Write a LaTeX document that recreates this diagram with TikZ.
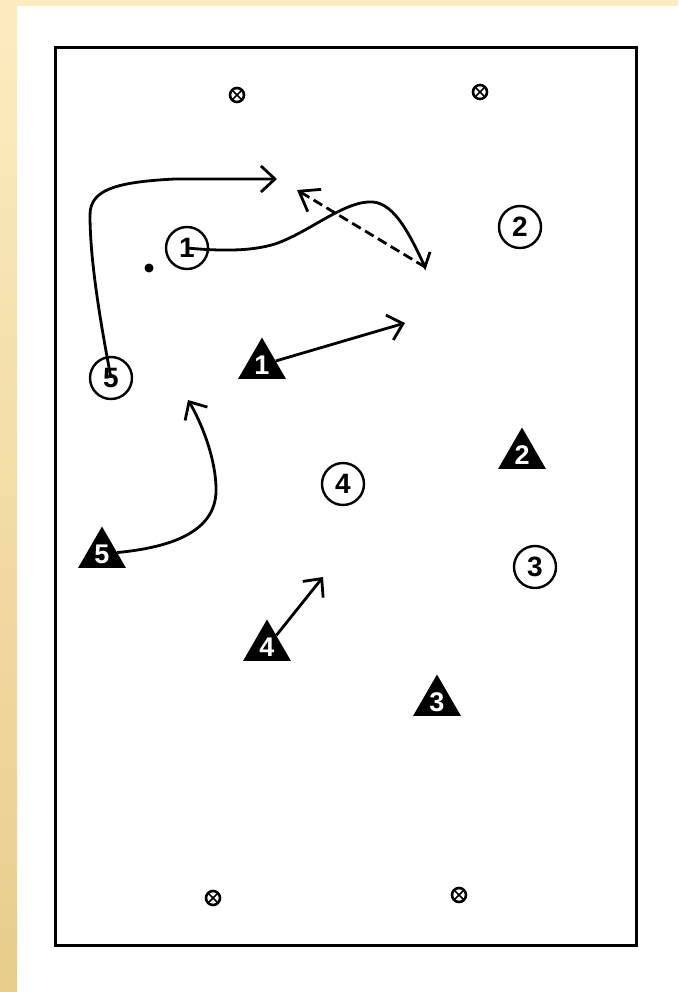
\documentclass[tikz,border=0pt]{standalone}
\usepackage{fontspec}
\setmainfont{Liberation Sans}
\usetikzlibrary{arrows.meta,shapes.geometric}
\definecolor{beigeA}{RGB}{252,236,192}
\definecolor{beigeB}{RGB}{232,205,140}
\tikzset{
  pcirc/.style={circle,draw,line width=2.4pt,minimum size=42pt,inner sep=0pt,
    font=\bfseries\fontsize{28}{28}\selectfont},
  ptri/.style={regular polygon,regular polygon sides=3,fill=black,minimum size=55pt,inner sep=0pt,
    text=white,font=\bfseries\fontsize{27}{27}\selectfont},
  ball/.style={circle,draw,line width=2.6pt,minimum size=14pt,inner sep=0pt,
    path picture={\draw[line width=1.5pt] (path picture bounding box.north west) -- (path picture bounding box.south east)
      (path picture bounding box.north east) -- (path picture bounding box.south west);}},
  run/.style={line width=2.8pt,-{Straight Barb[length=14pt,width=26pt]}},
  pass/.style={line width=2.8pt,dash pattern=on 10pt off 5pt,-{Straight Barb[length=18pt,width=26pt]}},
}
\begin{document}
\begin{tikzpicture}[x=1pt,y=-1pt]
\useasboundingbox (0,0) rectangle (678,992);
\fill[white] (0,0) rectangle (678,992);
\fill[beigeA] (0,0) rectangle (678,6);
\shade[top color=beigeA,bottom color=beigeB] (0,0) rectangle (17,992);
\draw[line width=3pt] (55,48) rectangle (636,945);
% balls
\node[ball] (m1) at (237,95) {};
\node[ball] (m2) at (480,92) {};
\node[ball] (m3) at (213,898) {};
\node[ball] (m4) at (459,895) {};
% players
\node[pcirc] (c1) at (187,248) {1};
\node[pcirc] (c2) at (520,227) {2};
\node[pcirc] (c3) at (535,567) {3};
\node[pcirc] (c4) at (343,484) {4};
\node[pcirc] (c5) at (111,378) {5};
\node[ptri] (t1) at (262,365) {1};
\node[ptri] (t2) at (522,455) {2};
\node[ptri] (t3) at (437,702) {3};
\node[ptri] (t4) at (267,647) {4};
\node[ptri] (t5) at (102,554) {5};
\node[circle,fill=black,minimum size=9pt,inner sep=0pt] (dot) at (149,268) {};
% free ends
\coordinate (e5) at (277,179);
\coordinate (w1) at (425,267);
\coordinate (p1) at (297,190);
\coordinate (e1) at (405,323);
\coordinate (f5) at (188,400);
\coordinate (e4) at (323,577);
% connectors
\draw[run] (c5.center) .. controls (100,320) and (90,260) .. (90,215)
   .. controls (90,190) and (115,182) .. (175,179) -- (e5);
\draw[line width=2.8pt] (c1.center) .. controls (230,252) and (255,250) .. (275,244)
   .. controls (310,232) and (345,200) .. (373,202)
   .. controls (395,204) and (410,235) .. (w1) -- (430,252);
\draw[pass] (w1) -- (p1);
\draw[run] (t1) -- (e1);
\draw[run] (t5) .. controls (175,547) and (218,530) .. (216,487)
   .. controls (215,455) and (200,420) .. (f5);
\draw[run] (t4) -- (e4);
\end{tikzpicture}
\end{document}
